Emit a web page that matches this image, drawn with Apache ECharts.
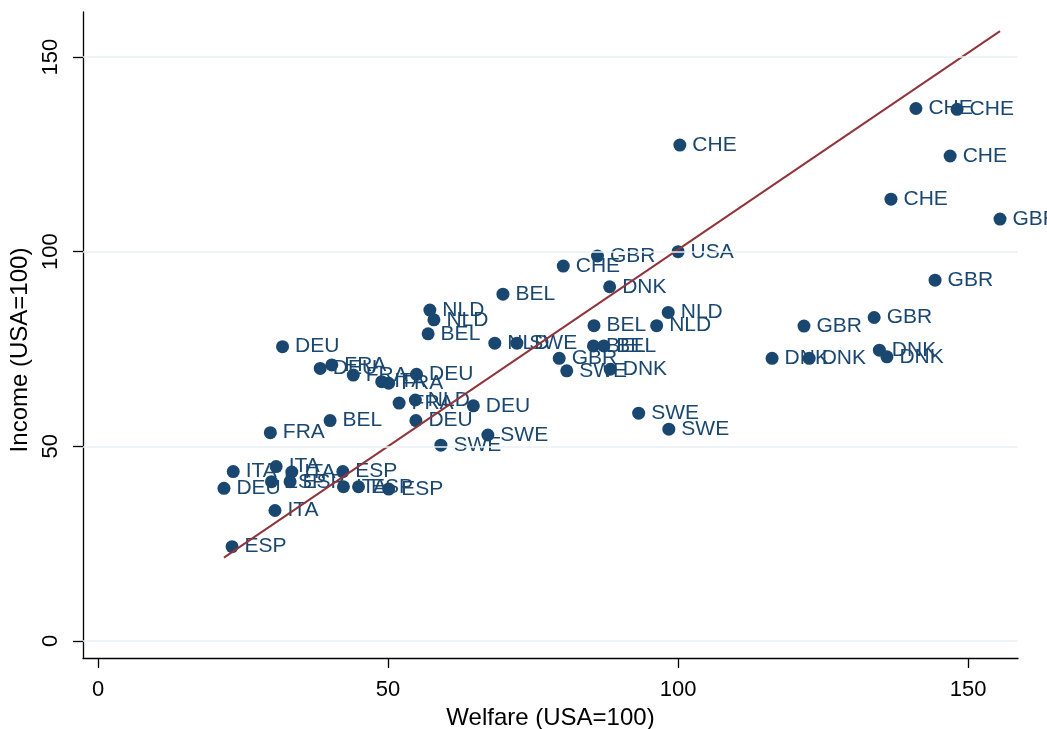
<!DOCTYPE html>
<html>
<head>
<meta charset="utf-8">
<script src="https://cdn.jsdelivr.net/npm/echarts@6/dist/echarts.min.js"></script>
<style>
html,body{margin:0;padding:0;background:#fff;}
#chart{width:1047px;height:729px;}
</style>
</head>
<body>
<div id="chart"></div>
<script>
// Country codes for each observation
const countries = [
  'CHE','CHE','CHE','CHE','CHE','CHE',
  'GBR','GBR','GBR','GBR','GBR','GBR',
  'DNK','DNK','DNK','DNK','DNK','DNK',
  'NLD','NLD','NLD','NLD','NLD','NLD',
  'BEL','BEL','BEL','BEL','BEL','BEL',
  'SWE','SWE','SWE','SWE','SWE','SWE',
  'DEU','DEU','DEU','DEU','DEU','DEU',
  'FRA','FRA','FRA','FRA','FRA',
  'ITA','ITA','ITA','ITA','ITA','ITA',
  'ESP','ESP','ESP','ESP','ESP','ESP',
  'USA'
];
// Welfare (USA=100)
const welfare = [
  100.3, 141.0, 148.1, 146.9, 136.7, 80.2,
  155.5, 144.3, 133.8, 121.7, 86.1, 79.5,
  88.2, 88.3, 116.2, 122.6, 134.7, 136.0,
  98.3, 96.3, 57.2, 57.9, 54.7, 68.4,
  69.8, 56.9, 85.5, 40.0, 85.4, 87.2,
  59.1, 67.2, 93.2, 98.4, 72.2, 80.8,
  31.8, 38.3, 54.9, 64.7, 54.8, 21.7,
  29.7, 40.3, 44.0, 50.1, 51.9,
  23.3, 30.7, 30.5, 33.4, 42.3, 48.9,
  23.1, 42.2, 29.9, 33.1, 44.9, 50.1,
  100.0
];
// Income (USA=100)
const income = [
  127.4, 136.8, 136.6, 124.6, 113.5, 96.3,
  108.4, 92.7, 83.1, 80.9, 98.9, 72.6,
  91.0, 69.8, 72.6, 72.6, 74.7, 73.0,
  84.4, 81.0, 85.0, 82.5, 61.9, 76.5,
  89.1, 78.9, 81.0, 56.6, 75.8, 75.8,
  50.3, 52.9, 58.5, 54.4, 76.5, 69.4,
  75.6, 70.0, 68.5, 60.4, 56.6, 39.2,
  53.5, 70.9, 68.3, 66.2, 61.1,
  43.5, 44.8, 33.5, 43.4, 39.6, 66.6,
  24.2, 43.5, 40.9, 40.9, 39.6, 39.0,
  100.0
];
// Fitted line endpoints (welfare, income)
const fitX = [21.7, 155.5];
const fitY = [21.4, 156.7];
// Tick values
const xTicks = [0, 50, 100, 150];
const yTicks = [0, 50, 100, 150];

const navy = '#1a476f';
const maroon = '#90353b';
const font = 'Liberation Sans, Arial, sans-serif';

const scatterData = welfare.map((w, i) => ({ value: [w, income[i]], name: countries[i] }));
const fitData = fitX.map((x, i) => [x, fitY[i]]);

const chart = echarts.init(document.getElementById('chart'), null, { renderer: 'canvas' });
chart.setOption({
  animation: false,
  backgroundColor: '#ffffff',
  grid: { left: 83, right: 29, top: 12, bottom: 71, containLabel: false, outerBoundsMode: 'none' },
  xAxis: {
    type: 'value',
    min: -2.6, max: 158.6,
    name: 'Welfare (USA=100)',
    nameLocation: 'middle',
    nameGap: 47,
    nameTextStyle: { fontSize: 24, color: '#000', fontFamily: font },
    axisLine: { show: true, onZero: false, lineStyle: { color: '#000', width: 1.3 } },
    axisTick: { show: true, customValues: xTicks, length: 10, lineStyle: { color: '#000', width: 1.3 } },
    axisLabel: { show: true, customValues: xTicks, fontSize: 22, color: '#000', fontFamily: font, margin: 21 },
    splitLine: { show: false }
  },
  yAxis: {
    type: 'value',
    min: -4.4, max: 161.6,
    name: 'Income (USA=100)',
    nameLocation: 'middle',
    nameRotate: 90,
    nameGap: 50,
    nameTextStyle: { fontSize: 24, color: '#000', fontFamily: font, padding: [0, 30, 0, 0] },
    axisLine: { show: true, onZero: false, lineStyle: { color: '#000', width: 1.3 } },
    axisTick: { show: true, customValues: yTicks, length: 10, lineStyle: { color: '#000', width: 1.3 } },
    axisLabel: { show: true, customValues: yTicks, rotate: 90, fontSize: 22, color: '#000', fontFamily: font, margin: 21 },
    splitLine: { show: false }
  },
  series: [
    {
      type: 'line',
      data: [],
      silent: true,
      markLine: {
        silent: true,
        symbol: ['none', 'none'],
        label: { show: false },
        lineStyle: { color: '#eaf2f3', width: 1.6, type: 'solid' },
        data: yTicks.map(v => ({ yAxis: v }))
      },
      z: 1
    },
    {
      type: 'scatter',
      data: scatterData,
      symbol: 'circle',
      symbolSize: 13,
      itemStyle: { color: navy, opacity: 1 },
      label: {
        show: true,
        position: 'right',
        distance: 6,
        formatter: p => p.name,
        color: navy,
        fontSize: 21,
        fontFamily: font
      },
      z: 3
    },
    {
      type: 'line',
      data: fitData,
      showSymbol: false,
      symbol: 'none',
      lineStyle: { color: maroon, width: 2 },
      itemStyle: { color: maroon },
      z: 4
    }
  ]
});
</script>
</body>
</html>
